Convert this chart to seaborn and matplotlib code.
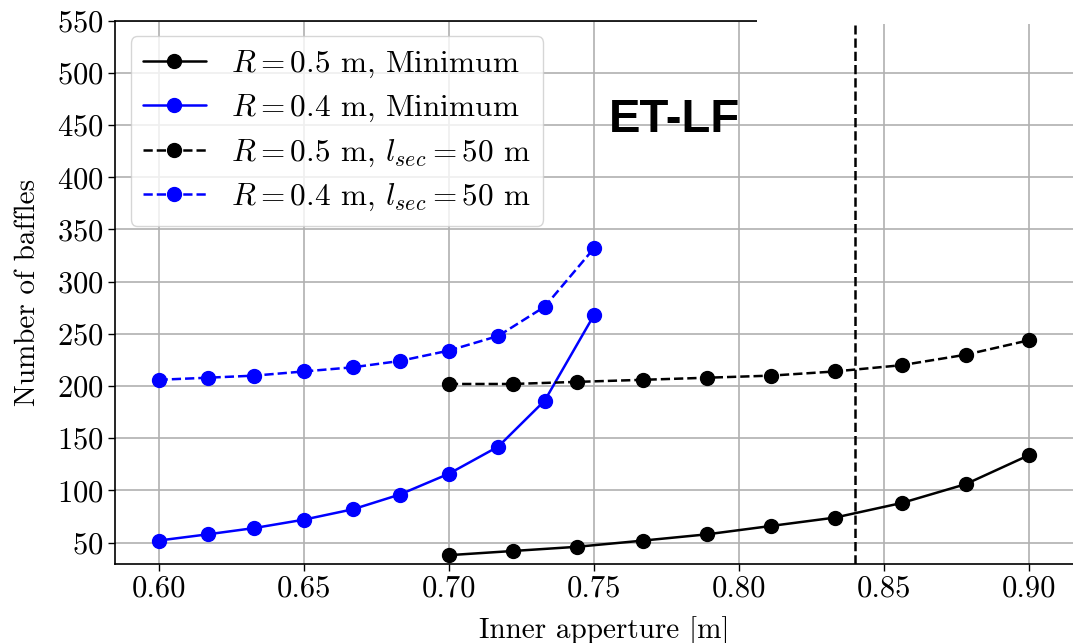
import matplotlib
matplotlib.use("Agg")
import matplotlib.pyplot as plt
import seaborn as sns
from matplotlib.patches import Rectangle

# Baffle counts versus inner aperture
x_r04 = [0.600, 0.617, 0.633, 0.650, 0.667, 0.683, 0.700, 0.717, 0.733, 0.750]
x_r05 = [0.700, 0.722, 0.744, 0.767, 0.789, 0.811, 0.833, 0.856, 0.878, 0.900]

r05_minimum = [38, 42, 46, 52, 58, 66, 74, 88, 106, 134]
r04_minimum = [52, 58, 64, 72, 82, 96, 116, 142, 186, 268]
r05_lsec50 = [202, 202, 204, 206, 208, 210, 214, 220, 230, 244]
r04_lsec50 = [206, 208, 210, 214, 218, 224, 234, 248, 276, 332]

labels = [
    r"$R = 0.5$ m, Minimum",
    r"$R = 0.4$ m, Minimum",
    r"$R = 0.5$ m, $l_{sec} = 50$ m",
    r"$R = 0.4$ m, $l_{sec} = 50$ m",
]
x_marker = 0.84
y_ticks = [50, 100, 150, 200, 250, 300, 350, 400, 450, 500, 550]
x_ticks = [0.60, 0.65, 0.70, 0.75, 0.80, 0.85, 0.90]

sns.set_style("ticks")
plt.rcParams.update({
    "font.family": "serif",
    "font.serif": ["cmr10"],
    "mathtext.fontset": "cm",
    "axes.unicode_minus": False,
    "axes.formatter.use_mathtext": True,
    "font.size": 21,
    "text.color": "black",
    "axes.labelcolor": "black",
    "xtick.color": "black",
    "ytick.color": "black",
})

fig = plt.figure(figsize=(10.73, 6.43), dpi=100)
ax = fig.add_axes([0.1072, 0.1236, 0.8928, 0.8442])

series = [
    (x_r05, r05_minimum, "black", "-"),
    (x_r04, r04_minimum, "blue", "-"),
    (x_r05, r05_lsec50, "black", "--"),
    (x_r04, r04_lsec50, "blue", "--"),
]
for (xs, ys, col, ls), lab in zip(series, labels):
    sns.lineplot(x=xs, y=ys, ax=ax, color=col, linestyle=ls, linewidth=1.8,
                 marker="o", markersize=10, markeredgecolor=col,
                 markeredgewidth=1, label=lab, zorder=3)

ax.axvline(x_marker, color="black", linestyle="--", linewidth=1.8,
           ymax=0.992, zorder=3)

ax.set_xlim(0.585, 0.915)
ax.set_ylim(30, 550)
ax.set_xticks(x_ticks)
ax.set_xticklabels([f"{t:.2f}" for t in x_ticks])
ax.set_yticks(y_ticks)
ax.grid(True, color="#b0b0b0", linewidth=1.2, zorder=0)
ax.set_axisbelow(True)

ax.spines["right"].set_visible(False)
ax.spines["top"].set_bounds(0.585, 0.806)
for s in ["left", "bottom", "top"]:
    ax.spines[s].set_color("black")
    ax.spines[s].set_linewidth(1.2)
ax.tick_params(axis="both", labelsize=22, colors="black", length=5, width=1)

# blank strip along the top edge to the right of the short top rule
ax.add_patch(Rectangle((0.806, 546.8), 0.2, 10, facecolor="white",
                       edgecolor="none", zorder=5, clip_on=False))

ax.set_xlabel("Inner apperture [m]", fontsize=21)
ax.set_ylabel("Number of baffles", fontsize=21)
ax.xaxis.set_label_coords(0.511, -0.097)
ax.yaxis.set_label_coords(-0.077, 0.5)

ax.text(0.755, 455, "ET-LF", fontsize=34, fontweight="bold", color="black",
        family="Liberation Sans", va="center", ha="left", zorder=4)

leg = ax.legend(loc="upper left", fontsize=22.5, framealpha=0.8,
                borderaxespad=0.5, handlelength=2.0, labelspacing=0.42)
for t in leg.get_texts():
    t.set_color("black")

fig.savefig("out.png", dpi=100)
